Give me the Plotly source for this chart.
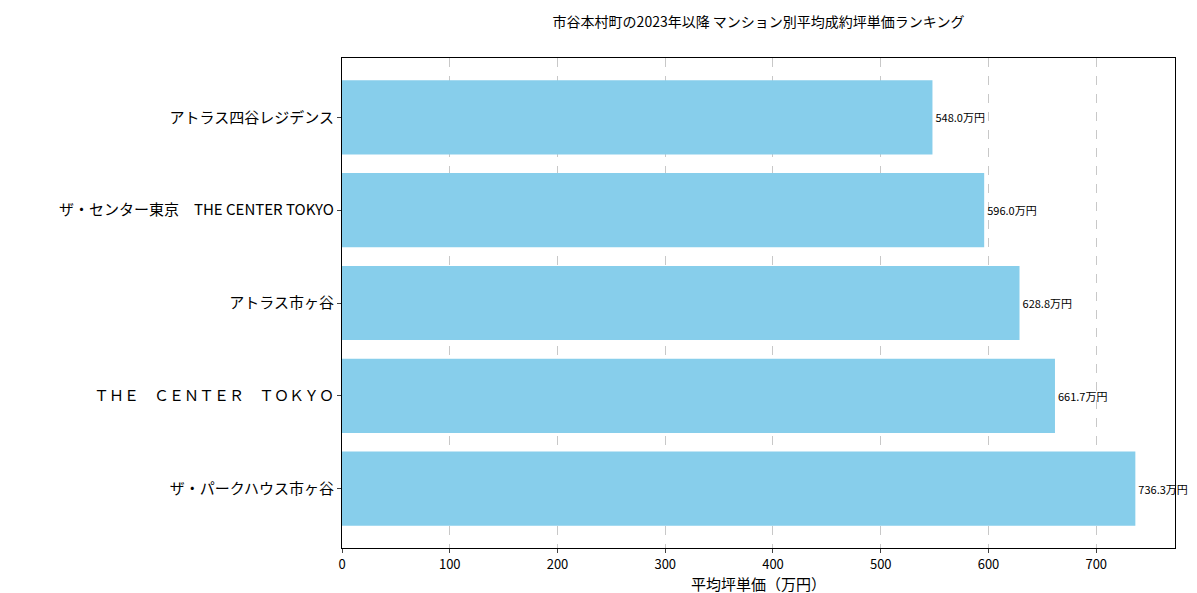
import plotly.graph_objects as go

names = ["ザ・パークハウス市ヶ谷", "ＴＨＥ　ＣＥＮＴＥＲ　ＴＯＫＹＯ", "アトラス市ヶ谷",
         "ザ・センター東京　THE CENTER TOKYO", "アトラス四谷レジデンス"]
values = [736.3, 661.7, 628.8, 596.0, 548.0]
labels = [f"{v:.1f}万円" for v in values]

F = "Noto Sans CJK JP"
fig = go.Figure(go.Bar(
    x=values, y=list(range(len(names))), orientation="h", width=0.8,
    marker=dict(color="#87CEEB", line=dict(width=0)),
    text=labels, textposition="outside", cliponaxis=False,
    textfont=dict(family=F, size=11, color="black"),
))
fig.update_layout(
    width=1197, height=593, plot_bgcolor="white", paper_bgcolor="white",
    margin=dict(l=334, r=30, t=50, b=53, autoexpand=False),
    font=dict(family=F, color="black"),
    title=dict(text="市谷本村町の2023年以降 マンション別平均成約坪単価ランキング",
               x=0.627, xanchor="center", y=0.985, yanchor="top",
               font=dict(size=14, family=F)),
    showlegend=False,
)
fig.update_xaxes(range=[0, 773.1], tickvals=list(range(0, 800, 100)),
                 showgrid=True, gridcolor="#c8c8c8", griddash="dash", gridwidth=1,
                 showline=True, linecolor="black", mirror=True, ticks="outside",
                 ticklen=4, tickfont=dict(size=13), zeroline=False, automargin=False,
                 title=dict(text="平均坪単価（万円）", font=dict(size=15), standoff=6))
fig.update_yaxes(range=[-0.64, 4.64], tickvals=list(range(len(names))), ticktext=names,
                 showgrid=False, showline=True, linecolor="black", mirror=True,
                 ticks="outside", ticklen=4, tickfont=dict(size=15), zeroline=False,
                 automargin=False)
fig.write_html("out.html")
